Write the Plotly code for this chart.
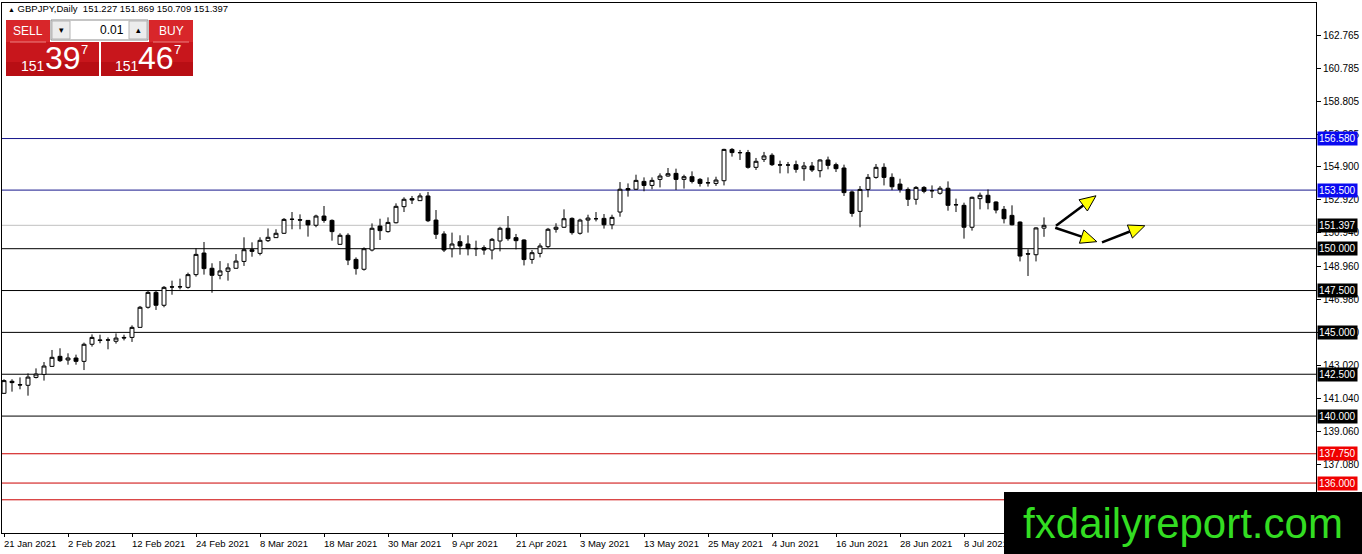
import math
import pandas as pd
import plotly.graph_objects as go

# GBPJPY daily candles, 21 Jan 2021 .. 22 Jul 2021
opens = [141.36, 142.08, 141.88, 141.84, 142.31, 142.49, 142.97, 143.57, 143.35, 143.47,
         143.27, 144.29, 144.55, 144.54, 144.47, 144.70, 144.70, 145.30, 146.50, 147.39,
         146.62, 147.72, 147.73, 147.69, 148.45, 149.74, 148.83, 148.41, 148.65, 148.83,
         149.24, 149.94, 149.72, 150.48, 150.66, 150.92, 151.75, 151.73, 151.69, 151.40,
         151.95, 151.69, 150.26, 150.80, 149.36, 148.77, 149.92, 151.35, 151.02, 151.55,
         152.51, 152.99, 152.87, 153.15, 151.71, 150.88, 150.00, 150.42, 150.28, 150.02,
         150.06, 149.92, 150.46, 151.22, 150.66, 150.52, 149.36, 149.72, 150.12, 151.16,
         151.28, 151.81, 150.92, 151.71, 151.79, 151.81, 151.43, 152.19, 153.59, 153.55,
         154.02, 153.78, 154.14, 154.34, 154.50, 154.14, 154.30, 154.14, 153.93, 153.90,
         154.06, 155.93, 155.73, 155.74, 154.86, 155.34, 155.58, 155.01, 155.00, 155.02,
         154.78, 154.94, 154.66, 155.30, 155.02, 154.82, 153.39, 152.23, 153.54, 154.26,
         154.86, 154.26, 153.86, 153.54, 152.95, 153.66, 153.47, 153.31, 153.61, 152.63,
         152.59, 151.28, 152.99, 153.19, 152.79, 152.35, 151.99, 151.59, 149.70, 149.64,
         151.227]
highs = [142.20, 142.20, 142.31, 142.55, 142.85, 143.23, 143.95, 144.05, 143.75, 143.67,
         144.39, 144.88, 144.86, 144.70, 144.94, 144.86, 145.42, 146.58, 147.47, 147.47,
         147.77, 148.09, 148.21, 148.57, 150.02, 150.40, 149.13, 149.26, 149.13, 149.68,
         150.68, 150.38, 150.68, 151.21, 151.16, 151.83, 152.19, 152.05, 151.71, 152.03,
         152.55, 151.75, 150.92, 150.92, 149.48, 150.08, 151.51, 151.79, 151.87, 152.71,
         153.07, 153.15, 153.31, 153.39, 152.31, 151.04, 150.96, 150.80, 150.80, 150.48,
         150.20, 150.64, 151.31, 151.95, 150.88, 150.56, 149.92, 150.32, 151.24, 151.52,
         152.35, 151.87, 151.79, 152.03, 152.19, 152.07, 152.03, 153.98, 153.90, 154.42,
         154.26, 154.26, 154.50, 154.82, 154.78, 154.42, 154.62, 154.22, 154.26, 154.30,
         155.97, 156.01, 155.90, 155.90, 155.42, 155.78, 155.70, 155.26, 155.18, 155.26,
         155.18, 155.18, 155.34, 155.50, 155.14, 155.02, 153.47, 153.74, 154.46, 155.06,
         155.10, 154.50, 154.18, 153.66, 153.74, 153.74, 153.78, 153.74, 154.02, 152.99,
         152.75, 153.11, 153.35, 153.54, 152.83, 152.55, 152.59, 151.63, 149.96, 151.28,
         151.869]
lows = [141.32, 141.46, 141.60, 141.22, 142.25, 142.12, 142.95, 143.23, 143.07, 143.07,
        142.75, 144.15, 144.35, 143.99, 144.33, 144.52, 144.43, 145.30, 146.42, 146.34,
        146.50, 147.25, 147.57, 147.61, 148.33, 148.45, 147.37, 148.17, 148.09, 148.81,
        148.97, 149.52, 149.60, 150.40, 150.64, 150.88, 151.16, 151.16, 150.72, 151.28,
        151.55, 150.48, 150.24, 149.02, 148.45, 148.69, 149.84, 150.52, 150.96, 151.51,
        152.19, 152.67, 152.87, 151.59, 150.58, 149.80, 149.48, 149.64, 149.60, 149.56,
        149.64, 149.36, 149.84, 150.48, 149.96, 149.00, 149.10, 149.48, 150.04, 150.96,
        151.24, 150.84, 150.84, 150.96, 151.63, 151.20, 151.16, 151.91, 153.11, 153.51,
        153.43, 153.55, 153.66, 154.30, 153.51, 153.59, 153.90, 153.71, 153.71, 153.75,
        153.78, 155.50, 155.30, 154.78, 154.70, 155.18, 154.94, 154.50, 154.50, 154.54,
        154.06, 154.58, 154.26, 154.74, 154.58, 153.15, 151.91, 151.28, 153.07, 154.18,
        153.78, 153.50, 153.35, 152.55, 152.63, 153.31, 153.03, 153.23, 152.27, 152.19,
        150.60, 151.08, 152.35, 152.35, 152.11, 151.51, 151.39, 149.24, 148.37, 149.24,
        150.709]
closes = [142.12, 142.00, 141.86, 142.33, 142.51, 142.99, 143.51, 143.31, 143.47, 143.27,
          144.29, 144.70, 144.52, 144.55, 144.66, 144.67, 145.30, 146.50, 147.39, 146.62,
          147.69, 147.71, 147.72, 148.45, 149.66, 148.81, 148.41, 148.67, 148.85, 149.26,
          149.94, 149.84, 150.50, 150.68, 150.92, 151.75, 151.76, 151.71, 151.42, 151.95,
          151.69, 151.02, 150.80, 149.32, 148.81, 150.00, 151.22, 151.08, 151.57, 152.53,
          152.95, 152.91, 153.15, 151.67, 150.86, 149.92, 150.28, 150.16, 150.00, 150.00,
          149.92, 150.56, 151.22, 150.60, 150.48, 149.35, 149.76, 150.16, 151.16, 151.28,
          151.79, 150.96, 151.71, 151.83, 151.79, 151.43, 151.87, 153.55, 153.51, 154.08,
          153.78, 154.08, 154.34, 154.48, 154.14, 154.30, 154.02, 153.90, 153.94, 154.10,
          155.93, 155.74, 155.74, 154.86, 155.22, 155.54, 155.02, 155.00, 155.00, 154.74,
          154.94, 154.70, 155.30, 154.98, 154.78, 153.35, 152.11, 153.54, 154.26, 154.86,
          154.26, 153.70, 153.54, 152.95, 153.66, 153.43, 153.46, 153.61, 152.59, 152.62,
          151.28, 153.07, 153.19, 152.75, 152.31, 151.79, 151.43, 149.56, 149.68, 151.24,
          151.397]

dates = pd.bdate_range("2021-01-21", periods=len(closes))

# horizontal levels drawn on the chart
blue_levels = [156.580, 153.500]
black_levels = [150.000, 147.500, 145.000, 142.500, 140.000]
red_levels = [137.750, 136.000, 135.000]
spread = 0.070

# right price scale labels
price_ticks = [162.765, 160.785, 158.805, 156.825, 154.900, 152.920, 150.940,
               148.960, 146.980, 145.000, 143.020, 141.040, 139.060, 137.080]

# drawn arrows (bar index, price) tail -> tip
arrows = [(131.5, 151.37, 136.5, 153.16),
          (131.4, 151.25, 136.6, 150.42),
          (137.25, 150.38, 142.6, 151.37)]

W, H = 1362, 554
ML, MR, MT, MB = 2, 46, 3, 21
XR = [-0.25, 164.0]
YR = [133.016, 164.677]
PW = W - ML - MR
PH = H - MT - MB
sx = PW / (XR[1] - XR[0])
sy = PH / (YR[1] - YR[0])
FONT = "Liberation Sans"
WM_LEFT, WM_TOP = 1004, 492   # watermark box corner, px


def px(xp):
    return (xp - ML) / PW


def py(yp):
    return 1 - (yp - MT) / PH


idx = list(range(len(closes)))

fig = go.Figure()
fig.add_trace(go.Candlestick(
    x=idx, open=opens, high=highs, low=lows, close=closes,
    increasing=dict(line=dict(color="black", width=1), fillcolor="white"),
    decreasing=dict(line=dict(color="black", width=1), fillcolor="black"),
    whiskerwidth=0, showlegend=False, hoverinfo="skip"))

shapes = []
annotations = []


def level(y, line_color, box_color, label=True):
    shapes.append(dict(type="line", xref="paper", x0=0, x1=1, yref="y", y0=y, y1=y,
                       line=dict(color=line_color, width=1), layer="below"))
    if label:
        annotations.append(dict(xref="paper", x=1, xanchor="left", xshift=1, yref="y", y=y,
                                text=f"{y:.3f}", showarrow=False, bgcolor=box_color,
                                font=dict(family=FONT, size=10, color="white"), borderpad=1))


for y in blue_levels:
    level(y, "#16168c", "#0a0af0")
for y in black_levels:
    level(y, "black", "black")
for y in red_levels:
    # the lowest red line's label sits under the watermark
    level(y, "#cc0000", "#f00000", label=y != red_levels[-1])
level(closes[-1], "#c0c0c0", "black")

# arrows
for x0, y0, x1, y1 in arrows:
    dxp = (x1 - x0) * sx
    dyp = (y1 - y0) * sy
    ln = math.hypot(dxp, dyp)
    ux, uy = dxp / ln, dyp / ln
    hl, hw = 16, 7
    bx, by = x1 - ux * hl / sx, y1 - uy * hl / sy
    nx, ny = -uy, ux
    fig.add_trace(go.Scatter(x=[x0, bx], y=[y0, by], mode="lines",
                             line=dict(color="black", width=2.5),
                             showlegend=False, hoverinfo="skip"))
    fig.add_trace(go.Scatter(
        x=[x1, bx + nx * hw / sx, bx - nx * hw / sx, x1],
        y=[y1, by + ny * hw / sy, by - ny * hw / sy, y1],
        mode="lines", fill="toself", fillcolor="#ffff00",
        line=dict(color="black", width=1), showlegend=False, hoverinfo="skip"))

# date labels, every 8 bars, left aligned at the bar (the one under the watermark is hidden)
for i in range(0, len(dates), 8):
    x_lab = i - 0.25
    if ML + (x_lab - XR[0]) * sx > WM_LEFT:
        continue
    d = dates[i]
    annotations.append(dict(xref="x", x=x_lab, xanchor="left", yref="paper", y=0,
                            yanchor="top", yshift=-3, showarrow=False,
                            text=f"{d.day} {d.strftime('%b %Y')}",
                            font=dict(family=FONT, size=9.5, color="black")))

# header
annotations.append(dict(xref="paper", yref="paper", x=px(6), y=py(9), xanchor="left",
                        yanchor="middle", showarrow=False,
                        text=f"<span style='font-size:7px'>▲</span> GBPJPY,Daily  "
                             f"{opens[-1]:.3f} {highs[-1]:.3f} {lows[-1]:.3f} {closes[-1]:.3f}",
                        font=dict(family=FONT, size=9.5, color="black")))


def rect(x0, y0, x1, y1, fill, line=None):
    shapes.append(dict(type="rect", xref="paper", yref="paper", x0=px(x0), x1=px(x1),
                       y0=py(y1), y1=py(y0), fillcolor=fill, layer="above",
                       line=dict(color=line or fill, width=1 if line else 0)))


def text(x, y, s, size, color="white", anchor="center"):
    annotations.append(dict(xref="paper", yref="paper", x=px(x), y=py(y), xanchor=anchor,
                            yanchor="middle", showarrow=False, text=s,
                            font=dict(family=FONT, size=size, color=color)))


# one-click trading panel
rect(6, 20, 50, 42, "#d8262a")
rect(149, 20, 193, 42, "#d8262a")
rect(6, 42, 99, 76, "#c8161c")
rect(101, 42, 193, 76, "#c8161c")
rect(6, 62, 99, 76, "#b80e14")
rect(101, 62, 193, 76, "#b80e14")
shapes.append(dict(type="line", xref="paper", yref="paper", x0=px(10), x1=px(46),
                   y0=py(42), y1=py(42), line=dict(color="#ec8080", width=1), layer="above"))
shapes.append(dict(type="line", xref="paper", yref="paper", x0=px(153), x1=px(189),
                   y0=py(42), y1=py(42), line=dict(color="#ec8080", width=1), layer="above"))
rect(51, 20, 148, 40, "white", "#8c8c8c")
rect(52, 21, 70, 39, "#ececec", "#b4b4b4")
rect(129, 21, 147, 39, "#ececec", "#b4b4b4")
text(28, 31, "SELL", 12)
text(171, 31, "BUY", 12)
text(61, 30, "▾", 9, "black")
text(138, 30, "▴", 9, "black")
text(126, 30, "0.01", 12, "black", "right")

bid = f"{closes[-1]:.3f}"
ask = f"{closes[-1] + spread:.3f}"
for s, x_small, x_big, x_pip in [(bid, 33, 63, 84), (ask, 127, 156, 177)]:
    text(x_small, 66, s[:3], 14)
    text(x_big, 58, s[4:6], 32)
    text(x_pip, 50, s[6], 13)

# watermark
annotations.append(dict(xref="paper", yref="paper", x=px(WM_LEFT), y=py(H), xanchor="left",
                        yanchor="bottom", width=W - WM_LEFT, height=H - WM_TOP,
                        bgcolor="black", borderpad=0, borderwidth=0, showarrow=False,
                        align="center", valign="middle", text="fxdailyreport.com",
                        font=dict(family=FONT, size=42, color="#33dd22")))

fig.update_layout(
    width=W, height=H,
    margin=dict(l=ML, r=MR, t=MT, b=MB, pad=0),
    paper_bgcolor="white", plot_bgcolor="white",
    shapes=shapes, annotations=annotations,
    showlegend=False,
    xaxis=dict(range=XR, rangeslider=dict(visible=False), showgrid=False, zeroline=False,
               showline=True, mirror=True, linecolor="black", linewidth=1,
               tickvals=list(range(0, len(dates), 8)), showticklabels=False,
               ticks="outside", ticklen=3, tickcolor="black"),
    yaxis=dict(range=YR, side="right", showgrid=False, zeroline=False,
               showline=True, mirror=True, linecolor="black", linewidth=1,
               tickvals=price_ticks, ticktext=[f"{v:.3f}" for v in price_ticks],
               ticks="outside", ticklen=4, tickcolor="black",
               tickfont=dict(family=FONT, size=10, color="black")),
)

# the page's default body margin would push the figure off its 0,0 corner
fig.write_html("out.html", config={"displayModeBar": False},
               post_script="document.body.style.margin='0px';")
